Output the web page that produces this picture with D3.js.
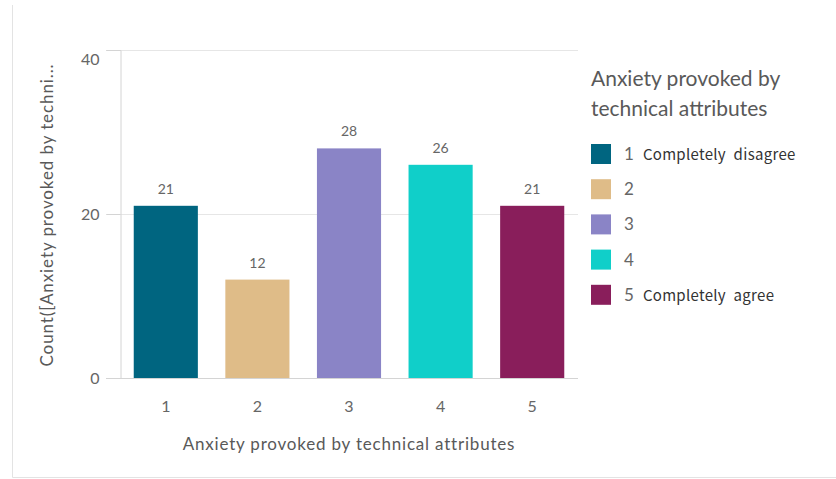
<!DOCTYPE html>
<html>
<head>
<meta charset="utf-8">
<script src="https://cdn.jsdelivr.net/npm/d3@7"></script>
<style>
  html, body { margin: 0; padding: 0; background: #fff; }
  svg { display: block; font-family: Lato, "Open Sans", sans-serif; }
</style>
</head>
<body>
<svg id="chart" width="836" height="479"></svg>
<script>
// Survey responses: count per agreement level
const categories = ["1", "2", "3", "4", "5"];
const counts = [21, 12, 28, 26, 21];
const legendNames = ["1", "2", "3", "4", "5"];
const legendNotes = ["Completely disagree", "", "", "", "Completely agree"];
const colors = ["#006580", "#dfbc88", "#8a84c6", "#10cfc9", "#891e5b"];
const yTicks = [0, 20, 40];

const svg = d3.select("#chart");

// card frame (left and bottom edges)
svg.append("path")
  .attr("d", "M12.5,5 V477.5 H836")
  .attr("fill", "none")
  .attr("stroke", "#e3e3e3")
  .attr("stroke-width", 1);

const plot = { left: 120, right: 578, top: 50, bottom: 378 };

const x = d3.scaleBand()
  .domain(categories)
  .range([plot.left, plot.right])
  .paddingInner(0.3)
  .paddingOuter(0.15);

const y = d3.scaleLinear()
  .domain([0, 40])
  .range([plot.bottom, plot.top]);

// gridlines
svg.append("g")
  .selectAll("line")
  .data(yTicks.filter(d => d > 0))
  .join("line")
  .attr("x1", plot.left - 14)
  .attr("x2", plot.right)
  .attr("y1", d => Math.round(y(d)) + 0.5)
  .attr("y2", d => Math.round(y(d)) + 0.5)
  .attr("stroke", "#e6e6e6");

// y axis
const yAxis = svg.append("g")
  .attr("transform", `translate(${plot.left + 0.5},0)`)
  .call(d3.axisLeft(y).tickValues(yTicks).tickSize(14).tickPadding(7));
yAxis.select(".domain").attr("stroke", "#d4d4d4");
yAxis.selectAll(".tick line").attr("stroke", "#d4d4d4");
yAxis.selectAll(".tick text")
  .attr("fill", "#666")
  .style("font-size", "16px")
  .style("font-family", "Lato, sans-serif")
  .attr("dy", d => d === 40 ? "0.9em" : "0.35em");

// bars
svg.append("g")
  .selectAll("rect")
  .data(counts)
  .join("rect")
  .attr("x", (d, i) => x(categories[i]))
  .attr("y", d => y(d))
  .attr("width", x.bandwidth())
  .attr("height", d => y(0) - y(d))
  .attr("fill", (d, i) => colors[i]);

// value labels
svg.append("g")
  .selectAll("text")
  .data(counts)
  .join("text")
  .attr("x", (d, i) => x(categories[i]) + x.bandwidth() / 2)
  .attr("y", d => y(d) - 12)
  .attr("text-anchor", "middle")
  .attr("fill", "#666")
  .style("font-size", "14px")
  .text(d => d);

// x axis
const xAxis = svg.append("g")
  .attr("transform", `translate(0,${plot.bottom + 0.5})`)
  .call(d3.axisBottom(x).tickSize(0).tickPadding(22));
xAxis.select(".domain").remove();
xAxis.append("line")
  .attr("x1", plot.left - 14)
  .attr("x2", plot.right)
  .attr("stroke", "#d4d4d4");
xAxis.selectAll(".tick text")
  .attr("fill", "#666")
  .style("font-size", "16px")
  .style("font-family", "Lato, sans-serif");

// axis titles
svg.append("text")
  .attr("x", (plot.left + plot.right) / 2)
  .attr("y", 450)
  .attr("text-anchor", "middle")
  .attr("fill", "#595959")
  .style("font-size", "17px")
  .style("letter-spacing", "0.8px")
  .text("Anxiety provoked by technical attributes");

svg.append("text")
  .attr("transform", `translate(53,${(plot.top + plot.bottom) / 2 + 1}) rotate(-90)`)
  .attr("text-anchor", "middle")
  .attr("fill", "#595959")
  .style("font-size", "17px")
  .style("letter-spacing", "0.9px")
  .text("Count([Anxiety provoked by techni...");

// legend
const legend = svg.append("g").attr("transform", "translate(591,0)");
legend.append("text")
  .attr("y", 86)
  .attr("fill", "#595959")
  .style("font-size", "21px")
  .selectAll("tspan")
  .data(["Anxiety provoked by", "technical attributes"])
  .join("tspan")
  .attr("x", 0)
  .attr("dy", (d, i) => i === 0 ? 0 : 30)
  .text(d => d);

const items = legend.selectAll("g.item")
  .data(legendNames)
  .join("g")
  .attr("class", "item")
  .attr("transform", (d, i) => `translate(0,${144 + i * 35.2})`);

items.append("rect")
  .attr("width", 20)
  .attr("height", 20)
  .attr("fill", (d, i) => colors[i]);

const labels = items.append("text")
  .attr("x", 33)
  .attr("y", 16);
labels.append("tspan")
  .attr("fill", "#666")
  .style("font-size", "17px")
  .text(d => d);
labels.append("tspan")
  .attr("dx", 9)
  .attr("fill", "#333")
  .style("font-size", "15px")
  .style("letter-spacing", "0.3px")
  .style("word-spacing", "4px")
  .style("font-family", "'Noto Sans CJK SC', 'Noto Sans', sans-serif")
  .text((d, i) => legendNotes[i]);
</script>
</body>
</html>
